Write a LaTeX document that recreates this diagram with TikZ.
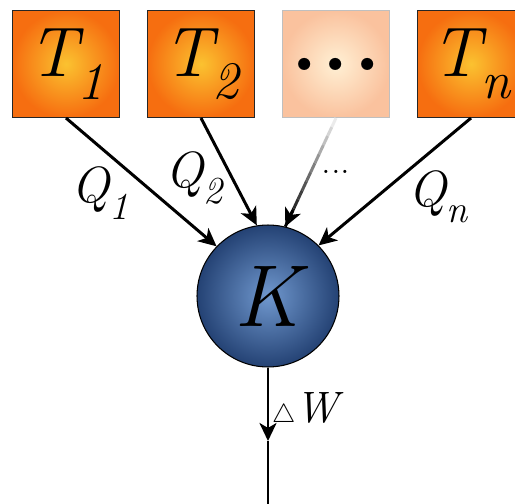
\documentclass[tikz,border=0pt]{standalone}
\usetikzlibrary{arrows.meta,calc}
\newcommand\lowidx[1]{\raisebox{-0.32em}{\scalebox{0.75}{#1}}}
\definecolor{hotedge}{RGB}{246,110,16}
\definecolor{hotmid}{RGB}{251,194,48}
\definecolor{paleedge}{RGB}{250,194,158}
\definecolor{palemid}{RGB}{255,240,212}
\definecolor{kedge}{RGB}{36,66,116}
\definecolor{kmid}{RGB}{112,152,206}
\begin{document}
\begin{tikzpicture}[x=0.02cm,y=-0.02cm,
  res/.style={draw=black!85,line width=0.6pt,minimum size=2.14cm,inner sep=0pt,
    shading=radial,inner color=hotmid,outer color=hotedge,font=\fontsize{40}{40}\selectfont\itshape},
  flow/.style={line width=1.7pt,-{Stealth[length=0.36cm,width=0.34cm,inset=0.1cm]}},
  lbl/.style={font=\fontsize{29}{29}\selectfont\itshape}]
  \useasboundingbox (0,0) rectangle (515,504);
  % reservoirs
  \node[res] (t1) at (66,64) {T\lowidx{1}};
  \node[res] (t2) at (201,64) {T\lowidx{2}};
  \node[res,draw=black!25,inner color=palemid,outer color=paleedge] (td) at (336,64)
    {\upshape\bfseries\fontsize{48}{48}\selectfont .\hspace{3pt}.\hspace{3pt}.};
  \node[res] (tn) at (471,64) {T\lowidx{n}};
  % engine
  \node[circle,draw=black,line width=0.6pt,minimum size=2.84cm,inner sep=0pt,
    shading=radial,inner color=kmid,outer color=kedge,
    font=\fontsize{50}{50}\selectfont\itshape] (K) at (268,296) {K};
  % heat flows
  \draw[flow] (t1.south) -- (K.136);
  \draw[flow] (t2.south) -- (K.99);
  \foreach \i [evaluate=\i as \j using \i+1, evaluate=\i as \p using 8+\i*92/11] in {0,...,11}
    \draw[line width=1.7pt,black!\p!white] ($(td.south)!\i/12!(K.76)$) -- ($(td.south)!\j/12!(K.76)$);
  \draw[flow] ($(td.south)!0.85!(K.76)$) -- (K.76);
  \draw[flow] (tn.south) -- (K.45);
  \node[lbl] (q1) at (100,193) {Q\lowidx{1}};
  \node[lbl] (q2) at (194,178) {Q\lowidx{2}};
  \node[font=\fontsize{22}{22}\selectfont] (qd) at (336,172) {...};
  \node[lbl] (qn) at (438,197) {Q\lowidx{n}};
  % work
  \coordinate (wtip) at (268,441);
  \coordinate (wend) at (268,510);
  \draw[flow] (K.south) -- (wtip);
  \draw[line width=1.7pt] (wtip) -- (wend);
  \node[font=\fontsize{25}{25}\selectfont] (dw) at (308,410) {\scalebox{0.6}{$\triangle$}\textit{W}};
\end{tikzpicture}
\end{document}
